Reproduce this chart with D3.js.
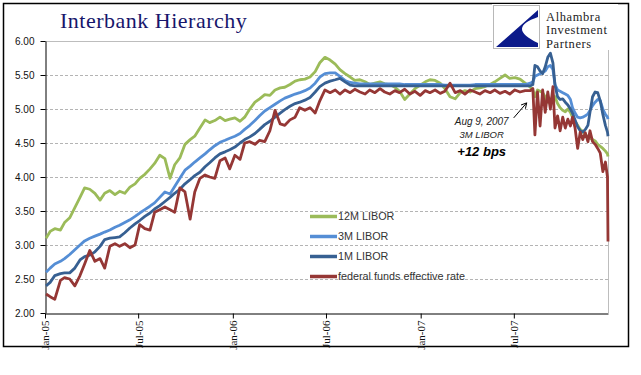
<!DOCTYPE html>
<html>
<head>
<meta charset="utf-8">
<script src="https://cdn.jsdelivr.net/npm/d3@7"></script>
<style>
  body { margin: 0; background: #fff; }
  svg { display: block; }
</style>
</head>
<body>
<div id="chart"></div>
<script>
// sample dates (denser after Aug 2007 where it gets noisy)
const dates = [
  "2005-01-03","2005-01-11","2005-01-20","2005-01-31","2005-02-08","2005-02-18","2005-02-28","2005-03-10","2005-03-19","2005-03-29",
  "2005-04-08","2005-04-18","2005-04-27","2005-05-07","2005-05-17","2005-05-26","2005-06-05","2005-06-15","2005-06-25","2005-07-04",
  "2005-07-14","2005-07-24","2005-08-02","2005-08-12","2005-08-22","2005-09-01","2005-09-10","2005-09-20","2005-09-30","2005-10-10",
  "2005-10-19","2005-10-29","2005-11-08","2005-11-17","2005-11-27","2005-12-07","2005-12-17","2005-12-26","2006-01-05","2006-01-15",
  "2006-01-24","2006-02-03","2006-02-13","2006-02-22","2006-03-04","2006-03-14","2006-03-24","2006-04-03","2006-04-12","2006-04-22",
  "2006-05-02","2006-05-11","2006-05-21","2006-05-31","2006-06-10","2006-06-19","2006-06-29","2006-07-09","2006-07-19","2006-07-28",
  "2006-08-07","2006-08-17","2006-08-26","2006-09-05","2006-09-15","2006-09-24","2006-10-04","2006-10-14","2006-10-23","2006-11-02",
  "2006-11-12","2006-11-21","2006-12-01","2006-12-11","2006-12-21","2006-12-31","2007-01-10","2007-01-19","2007-01-29","2007-02-08",
  "2007-02-17","2007-02-27","2007-03-09","2007-03-19","2007-03-28","2007-04-07","2007-04-17","2007-04-26","2007-05-06","2007-05-16",
  "2007-05-25","2007-06-04","2007-06-14","2007-06-23","2007-07-03","2007-07-13","2007-07-23",
  "2007-08-02","2007-08-07","2007-08-11","2007-08-16","2007-08-21","2007-08-26","2007-08-31","2007-09-05","2007-09-10","2007-09-15",
  "2007-09-19","2007-09-24","2007-09-29","2007-10-04","2007-10-09","2007-10-14","2007-10-19","2007-10-23","2007-10-28","2007-11-02",
  "2007-11-07","2007-11-12","2007-11-17","2007-11-22","2007-11-26","2007-12-01","2007-12-06","2007-12-11","2007-12-16","2007-12-21",
  "2007-12-26","2007-12-30","2007-12-31"
];

const libor12m = [
  3.10,3.20,3.24,3.22,3.33,3.40,3.55,3.70,3.84,3.82,
  3.76,3.66,3.76,3.80,3.74,3.79,3.76,3.85,3.90,3.98,
  4.04,4.12,4.20,4.32,4.27,3.98,4.18,4.28,4.48,4.55,
  4.60,4.72,4.84,4.80,4.83,4.88,4.83,4.85,4.87,4.82,
  4.88,5.00,5.10,5.15,5.21,5.20,5.28,5.31,5.32,5.36,
  5.41,5.43,5.44,5.47,5.55,5.68,5.76,5.72,5.66,5.58,
  5.52,5.47,5.42,5.43,5.40,5.36,5.38,5.40,5.37,5.36,
  5.32,5.26,5.14,5.22,5.30,5.35,5.40,5.43,5.42,5.38,
  5.30,5.18,5.15,5.24,5.27,5.25,5.30,5.31,5.33,5.36,
  5.40,5.45,5.50,5.45,5.46,5.44,5.38,
  5.32,5.28,5.18,5.28,5.26,5.24,5.18,5.10,5.12,5.20,
  5.18,5.08,5.02,4.98,4.96,5.00,4.95,4.88,4.82,4.76,
  4.70,4.67,4.62,4.59,4.57,4.55,4.53,4.48,4.45,4.42,
  4.38,4.34,4.30
];

const libor3m = [
  2.60,2.66,2.72,2.76,2.80,2.86,2.93,3.00,3.06,3.10,
  3.13,3.16,3.19,3.22,3.26,3.29,3.33,3.37,3.42,3.47,
  3.52,3.57,3.62,3.70,3.78,3.75,3.86,3.98,4.10,4.16,
  4.22,4.28,4.34,4.40,4.46,4.51,4.54,4.57,4.60,4.64,
  4.70,4.76,4.83,4.90,4.97,5.02,5.07,5.12,5.16,5.19,
  5.22,5.24,5.27,5.31,5.38,5.47,5.52,5.53,5.53,5.48,
  5.42,5.39,5.38,5.37,5.37,5.37,5.37,5.37,5.37,5.37,
  5.37,5.37,5.36,5.36,5.36,5.36,5.36,5.36,5.36,5.36,
  5.35,5.35,5.35,5.35,5.35,5.35,5.36,5.36,5.36,5.36,
  5.36,5.36,5.36,5.36,5.36,5.36,5.36,
  5.38,5.40,5.48,5.50,5.52,5.54,5.56,5.62,5.64,5.58,
  5.36,5.28,5.26,5.24,5.22,5.20,5.14,5.02,4.94,4.88,
  4.87,4.88,4.90,4.93,4.98,5.05,5.10,5.14,5.12,5.00,
  4.92,4.88,4.85
];

const libor1m = [
  2.40,2.45,2.55,2.58,2.59,2.59,2.66,2.78,2.83,2.85,
  2.90,2.98,3.08,3.10,3.11,3.12,3.18,3.25,3.31,3.36,
  3.42,3.47,3.53,3.58,3.64,3.70,3.76,3.82,3.90,3.96,
  4.02,4.07,4.15,4.21,4.28,4.34,4.37,4.40,4.44,4.50,
  4.55,4.59,4.64,4.70,4.77,4.82,4.88,4.94,4.99,5.04,
  5.08,5.10,5.13,5.17,5.25,5.33,5.38,5.41,5.43,5.45,
  5.40,5.35,5.34,5.34,5.34,5.34,5.34,5.34,5.34,5.34,
  5.34,5.34,5.34,5.34,5.34,5.34,5.34,5.34,5.34,5.34,
  5.34,5.34,5.34,5.34,5.34,5.34,5.34,5.34,5.34,5.34,
  5.34,5.34,5.34,5.34,5.34,5.34,5.34,
  5.34,5.36,5.64,5.62,5.56,5.52,5.62,5.76,5.82,5.68,
  5.35,5.18,5.14,5.15,5.10,5.06,5.00,4.94,4.84,4.74,
  4.68,4.66,4.70,4.76,4.95,5.18,5.25,5.24,5.12,4.92,
  4.76,4.66,4.60
];

const fedFunds = [
  2.28,2.24,2.20,2.48,2.52,2.50,2.40,2.55,2.72,2.92,
  2.76,2.80,2.66,2.98,3.02,2.98,3.02,2.96,3.00,3.30,
  3.24,3.22,3.48,3.52,3.56,3.52,3.48,3.84,3.78,3.38,
  3.78,3.98,4.03,4.00,3.98,4.24,4.28,4.12,4.32,4.26,
  4.50,4.52,4.48,4.54,4.52,4.68,4.98,4.78,4.76,4.84,
  4.88,5.02,4.98,5.02,4.94,5.12,5.28,5.24,5.28,5.22,
  5.28,5.24,5.29,5.25,5.22,5.28,5.24,5.30,5.25,5.22,
  5.27,5.24,5.29,5.22,5.26,5.20,5.27,5.24,5.28,5.23,
  5.26,5.38,5.24,5.27,5.22,5.28,5.25,5.22,5.27,5.24,
  5.28,5.23,5.26,5.22,5.28,5.25,5.27,
  5.27,5.30,4.62,5.25,4.75,5.28,4.95,5.25,5.00,5.33,
  4.72,4.90,4.68,4.88,4.72,4.85,4.75,4.88,4.72,4.42,
  4.66,4.55,4.65,4.52,4.68,4.52,4.48,4.42,4.35,4.08,
  4.22,4.00,3.05
];

const seriesNames = ["12M LIBOR", "3M LIBOR", "1M LIBOR", "federal funds effective rate"];
const seriesColors = ["#9bbb59", "#558ed5", "#376092", "#953735"];

const yTicks = [2.0, 2.5, 3.0, 3.5, 4.0, 4.5, 5.0, 5.5, 6.0];
const xTicks = ["2005-01-01", "2005-07-01", "2006-01-01", "2006-07-01", "2007-01-01", "2007-07-01"];

const note = {date: "2007-07-26", value: 5.09, lines: ["Aug 9, 2007", "3M LIBOR", "+12 bps"]};
const logoLines = ["Alhambra", "Investment", "Partners"];

// layout
const width = 641, height = 375;
const plot = {left: 45, right: 608, top: 41, bottom: 313};

const parseDate = d3.timeParse("%Y-%m-%d");
const dateValues = dates.map(parseDate);

const svg = d3.select("#chart").append("svg")
  .attr("width", width)
  .attr("height", height);

svg.append("rect")
  .attr("width", width).attr("height", height)
  .attr("fill", "#fff");

// outer frame
svg.append("rect")
  .attr("x", 3.5).attr("y", 3.5)
  .attr("width", 625).attr("height", 343)
  .attr("fill", "none")
  .attr("stroke", "#000")
  .attr("stroke-width", 1.5);

const x = d3.scaleTime()
  .domain([parseDate("2005-01-01"), parseDate("2007-12-31")])
  .range([plot.left, plot.right]);

const y = d3.scaleLinear()
  .domain([2, 6])
  .range([plot.bottom, plot.top]);

// gridlines
svg.append("g")
  .selectAll("line")
  .data(yTicks.filter(d => d > 2 && d < 6))
  .join("line")
    .attr("x1", plot.left).attr("x2", plot.right)
    .attr("y1", d => Math.round(y(d)) + 0.5)
    .attr("y2", d => Math.round(y(d)) + 0.5)
    .attr("stroke", "#b4b4b4")
    .attr("stroke-dasharray", "3,2");

// plot area border (top + right)
svg.append("path")
  .attr("d", `M${plot.left},${plot.top + 0.5}H${plot.right + 0.5}V${plot.bottom}`)
  .attr("fill", "none")
  .attr("stroke", "#bdbdbd");

// y axis
const yAxis = svg.append("g")
  .attr("transform", `translate(${plot.left + 0.5},0)`)
  .call(d3.axisLeft(y)
    .tickValues(yTicks)
    .tickFormat(d3.format(".2f"))
    .tickSize(5)
    .tickSizeOuter(0)
    .tickPadding(6));
yAxis.selectAll("text")
  .attr("font-family", "'Liberation Sans', Arial, sans-serif")
  .attr("font-size", 10)
  .attr("fill", "#111");

// x axis
const xAxis = svg.append("g")
  .attr("transform", `translate(0,${plot.bottom + 0.5})`)
  .call(d3.axisBottom(x)
    .tickValues(xTicks.map(parseDate))
    .tickFormat(d3.timeFormat("%b-%y"))
    .tickSize(5)
    .tickSizeOuter(0));
xAxis.selectAll("text")
  .attr("transform", "rotate(-90)")
  .attr("x", -7)
  .attr("y", 0)
  .attr("dy", "0.35em")
  .style("text-anchor", "end")
  .attr("font-family", "'Liberation Serif', 'Times New Roman', serif")
  .attr("font-size", 11)
  .attr("fill", "#111");
svg.selectAll(".domain, .tick line").attr("stroke", "#000");

// series lines
const series = [libor12m, libor3m, libor1m, fedFunds];
const line = d3.line()
  .x((d, i) => x(dateValues[i]))
  .y(d => y(d));

svg.append("g")
  .selectAll("path")
  .data(series)
  .join("path")
    .attr("d", line)
    .attr("fill", "none")
    .attr("stroke", (d, i) => seriesColors[i])
    .attr("stroke-width", 2.8)
    .attr("stroke-linejoin", "round");

// legend
const legend = svg.append("g")
  .attr("transform", "translate(310,216.5)");
const items = legend.selectAll("g")
  .data(seriesNames)
  .join("g")
    .attr("transform", (d, i) => `translate(0,${i * 20})`);
items.append("line")
  .attr("x1", 0).attr("x2", 27)
  .attr("stroke", (d, i) => seriesColors[i])
  .attr("stroke-width", 3.5);
items.append("text")
  .attr("x", 28)
  .attr("dy", "0.35em")
  .attr("font-family", "'Liberation Sans', Arial, sans-serif")
  .attr("font-size", 10.8)
  .attr("fill", "#333")
  .text(d => d);

// annotation
const tipX = x(parseDate(note.date)), tipY = y(note.value);
const ang = Math.atan2(15, -13);
const head = 6;
svg.append("path")
  .attr("d", `M${tipX - 13},${tipY + 15}L${tipX},${tipY}` +
    `M${tipX + head * Math.cos(ang + 0.5)},${tipY + head * Math.sin(ang + 0.5)}L${tipX},${tipY}` +
    `L${tipX + head * Math.cos(ang - 0.5)},${tipY + head * Math.sin(ang - 0.5)}`)
  .attr("fill", "none")
  .attr("stroke", "#000")
  .attr("stroke-width", 1);

const noteG = svg.append("g")
  .attr("transform", `translate(${tipX - 45},${tipY})`)
  .attr("text-anchor", "middle")
  .attr("font-family", "'Liberation Sans', Arial, sans-serif")
  .attr("font-style", "italic");
noteG.append("text").attr("y", 22).attr("font-size", 10).attr("fill", "#222").text(note.lines[0]);
noteG.append("text").attr("y", 35.5).attr("font-size", 9.5).attr("fill", "#222").text(note.lines[1]);
noteG.append("text").attr("y", 53).attr("font-size", 13).attr("font-weight", "bold").attr("fill", "#000").text(note.lines[2]);

// title
svg.append("text")
  .attr("x", 60).attr("y", 28)
  .attr("font-family", "'Liberation Serif', 'Times New Roman', serif")
  .attr("font-size", 22)
  .attr("letter-spacing", 0.5)
  .attr("fill", "#17166b")
  .text("Interbank Hierarchy");

// logo
const logo = svg.append("g").attr("transform", "translate(492,4)");
logo.append("rect")
  .attr("x", 0).attr("y", 0).attr("width", 126).attr("height", 46)
  .attr("fill", "#fff");
logo.append("rect")
  .attr("x", 1.5).attr("y", 1.5).attr("width", 46).attr("height", 43)
  .attr("fill", "#fff")
  .attr("stroke", "#b8b8b8");
logo.append("path")
  .attr("d", "M4,43 L46,6 L46,13 Q14,24 46,39 L46,43 Z")
  .attr("fill", "#0c1a8a");
logo.append("g")
  .attr("font-family", "'Liberation Serif', 'Times New Roman', serif")
  .attr("font-size", 12.5)
  .attr("letter-spacing", 0.6)
  .attr("fill", "#222")
  .selectAll("text")
  .data(logoLines)
  .join("text")
    .attr("x", 54)
    .attr("y", (d, i) => 16.5 + i * 13.5)
    .text(d => d);
</script>
</body>
</html>
